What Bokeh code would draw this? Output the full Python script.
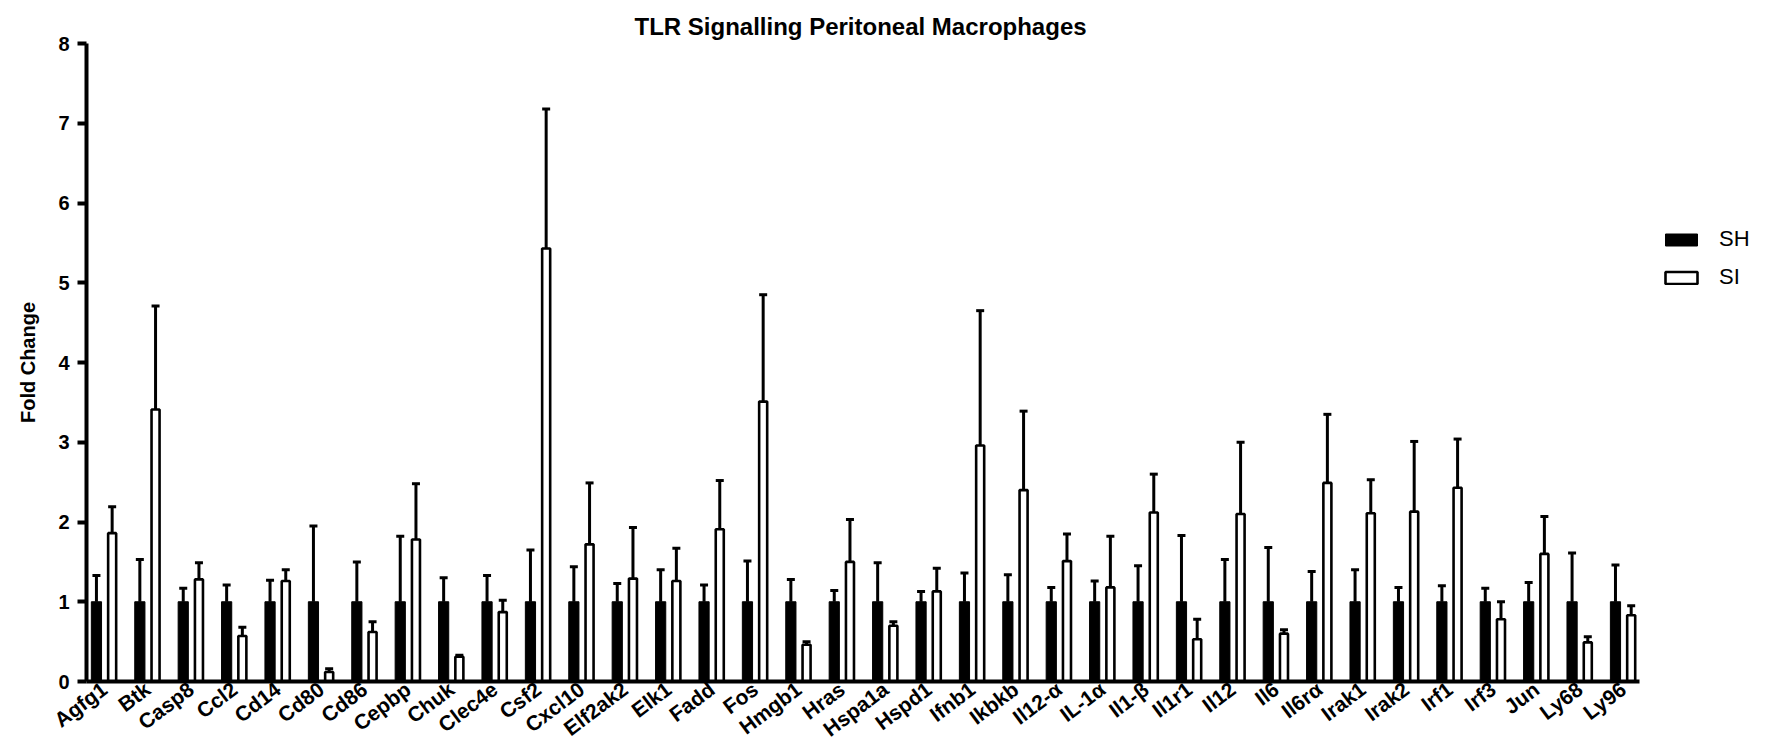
import math
from bokeh.plotting import figure
from bokeh.models import (ColumnDataSource, Whisker, TeeHead, FixedTicker, Legend,
                          LegendItem, Range1d)
from bokeh.embed import file_html
from bokeh.resources import INLINE

categories = ["Agfg1", "Btk", "Casp8", "Ccl2", "Cd14", "Cd80", "Cd86", "Cepbp", "Chuk",
              "Clec4e", "Csf2", "Cxcl10", "Elf2ak2", "Elk1", "Fadd", "Fos", "Hmgb1", "Hras",
              "Hspa1a", "Hspd1", "Ifnb1", "Ikbkb", "Il12-α", "IL-1α", "Il1-β", "Il1r1",
              "Il12", "Il6", "Il6rα", "Irak1", "Irak2", "Irf1", "Irf3", "Jun", "Ly68", "Ly96"]

sh_mean = [1.0, 1.0, 1.0, 1.0, 1.0, 1.0, 1.0, 1.0, 1.0, 1.0, 1.0, 1.0,
           1.0, 1.0, 1.0, 1.0, 1.0, 1.0, 1.0, 1.0, 1.0, 1.0, 1.0, 1.0,
           1.0, 1.0, 1.0, 1.0, 1.0, 1.0, 1.0, 1.0, 1.0, 1.0, 1.0, 1.0]
sh_sem = [0.33, 0.53, 0.17, 0.21, 0.27, 0.95, 0.50, 0.82, 0.30, 0.33, 0.65, 0.44,
          0.23, 0.40, 0.21, 0.51, 0.28, 0.14, 0.49, 0.13, 0.36, 0.34, 0.18, 0.26,
          0.45, 0.83, 0.53, 0.68, 0.38, 0.40, 0.18, 0.20, 0.17, 0.24, 0.61, 0.46]

si_mean = [1.86, 3.41, 1.28, 0.57, 1.26, 0.12, 0.62, 1.78, 0.31, 0.87, 5.43, 1.72,
           1.29, 1.26, 1.91, 3.51, 0.46, 1.50, 0.70, 1.13, 2.96, 2.40, 1.51, 1.18,
           2.12, 0.53, 2.10, 0.60, 2.49, 2.11, 2.13, 2.43, 0.78, 1.60, 0.49, 0.83]
si_sem = [0.33, 1.30, 0.21, 0.11, 0.14, 0.04, 0.13, 0.70, 0.02, 0.15, 1.75, 0.77,
          0.64, 0.41, 0.61, 1.34, 0.04, 0.53, 0.05, 0.29, 1.69, 0.99, 0.34, 0.64,
          0.48, 0.25, 0.90, 0.05, 0.86, 0.42, 0.88, 0.61, 0.22, 0.47, 0.07, 0.12]

y_ticks = [0, 1, 2, 3, 4, 5, 6, 7, 8]
series_names = ["SH", "SI"]

FONT = "Liberation Sans"
OFF = 0.181

idx = list(range(len(categories)))
src = ColumnDataSource(dict(
    cat=categories,
    sh_x=[i - OFF for i in idx],
    si_x=[i + OFF for i in idx],
    sh=sh_mean,
    si=si_mean,
    sh_up=[m + e for m, e in zip(sh_mean, sh_sem)],
    si_up=[m + e for m, e in zip(si_mean, si_sem)],
))

x_lo, x_hi = -0.41, 35.37

p = figure(width=1783, height=752, output_backend="svg", toolbar_location=None,
           x_range=Range1d(x_lo, 38.46), y_range=Range1d(0, 8),
           min_border_left=86, min_border_right=10, min_border_top=43,
           min_border_bottom=69, title="TLR  Signalling Peritoneal Macrophages")

p.title.align = "left"
p.title.offset = 548
p.title.vertical_align = "top"
p.title.text_font = FONT
p.title.text_font_size = "24px"
p.title.text_font_style = "bold"
p.title.text_color = "black"
p.title.standoff = 3

r_sh = p.vbar(x="sh_x", top="sh", bottom=0, width=0.235, source=src,
              fill_color="black", line_color="black", line_width=1)
r_si = p.vbar(x="si_x", top="si", bottom=0, width=0.185, source=src,
              fill_color="white", line_color="black", line_width=2.6)

for base, lo, up in (("sh_x", "sh", "sh_up"), ("si_x", "si", "si_up")):
    w = Whisker(source=src, base=base, lower=lo, upper=up, dimension="height",
                line_color="black", line_width=3, lower_head=None,
                upper_head=TeeHead(size=8, line_width=3, line_color="black"))
    p.add_layout(w)

p.xgrid.visible = False
p.ygrid.visible = False
p.outline_line_color = None

xa = p.xaxis[0]
xa.bounds = (x_lo, x_hi)
xa.ticker = FixedTicker(ticks=idx)
xa.major_label_overrides = {i: c for i, c in zip(idx, categories)}
xa.major_label_orientation = math.radians(37)
xa.major_label_text_font = FONT
xa.major_label_text_font_size = "21px"
xa.major_label_text_font_style = "bold"
xa.major_label_text_color = "black"
xa.major_label_standoff = 5
xa.major_tick_out = 0
xa.major_tick_in = 0
xa.minor_tick_out = 0
xa.minor_tick_in = 0
xa.axis_line_width = 4
xa.axis_line_color = "black"

ya = p.yaxis[0]
ya.ticker = FixedTicker(ticks=y_ticks)
ya.major_label_text_font = FONT
ya.major_label_text_font_size = "20px"
ya.major_label_text_font_style = "bold"
ya.major_label_text_color = "black"
ya.major_label_standoff = 8
ya.major_tick_out = 9
ya.major_tick_in = 0
ya.major_tick_line_width = 4
ya.minor_tick_out = 0
ya.minor_tick_in = 0
ya.axis_line_width = 4
ya.axis_line_color = "black"
ya.axis_label = "Fold Change"
ya.axis_label_text_font = FONT
ya.axis_label_text_font_size = "20px"
ya.axis_label_text_font_style = "bold"
ya.axis_label_text_color = "black"
ya.axis_label_standoff = 16

legend = Legend(items=[LegendItem(label=series_names[0], renderers=[r_sh]),
                       LegendItem(label=series_names[1], renderers=[r_si])],
                location=(1575, 391), glyph_width=40, glyph_height=15,
                label_standoff=18, spacing=12, padding=0, margin=0,
                border_line_color=None, background_fill_alpha=0,
                label_text_font=FONT, label_text_font_size="22px",
                label_text_color="black")
p.add_layout(legend)

open("out.html", "w").write(file_html(p, INLINE))
